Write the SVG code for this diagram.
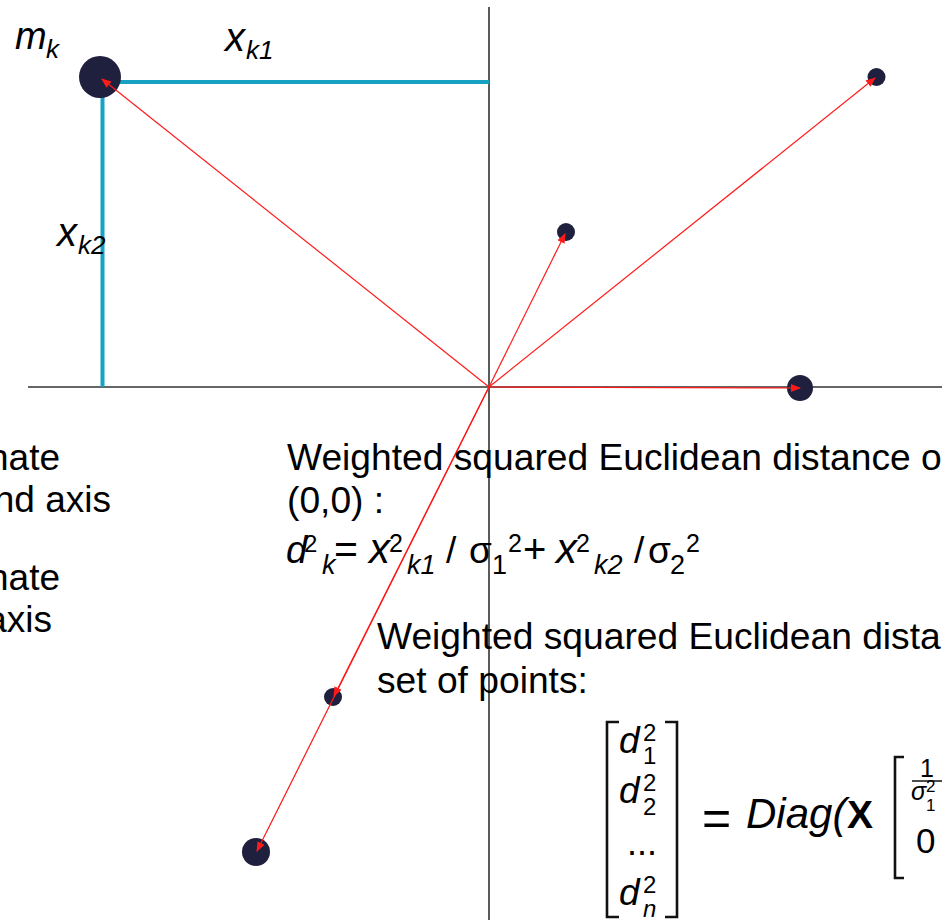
<svg xmlns="http://www.w3.org/2000/svg" width="942" height="920" viewBox="0 0 942 920">
<defs>
<marker id="ah" viewBox="0 0 10 10" refX="9" refY="5" markerWidth="10" markerHeight="10" markerUnits="userSpaceOnUse" orient="auto">
<path d="M0,1 L10,5 L0,9 Z" fill="#ff1a1a"/>
</marker>
<style>
.t{font-family:"Liberation Sans",Arial,sans-serif;fill:#000}
.i{font-style:italic}
.axis{stroke:#333;stroke-width:1.6;fill:none}
.cy{stroke:#17a2c4;stroke-width:4;fill:none}
.vec{stroke:#ff1a1a;stroke-width:1.2;fill:none;marker-end:url(#ah)}
.pt{fill:#1f1f3e}
.br{stroke:#111;stroke-width:2.6;fill:none}
</style>
</defs>
<rect width="942" height="920" fill="#fff"/>
<g id="axes">
<line class="axis" x1="489" y1="7" x2="489" y2="920"/>
<line class="axis" x1="28" y1="387" x2="942" y2="387"/>
</g>
<g id="components">
<polyline class="cy" points="489,82 102.5,82 102.5,387"/>
</g>
<g id="point-mk"><circle class="pt" cx="100" cy="77" r="21"/></g>
<g id="point-2"><circle class="pt" cx="566" cy="232" r="9"/></g>
<g id="point-3"><circle class="pt" cx="876.5" cy="77" r="9"/></g>
<g id="point-4"><circle class="pt" cx="800" cy="388" r="13"/></g>
<g id="point-5"><circle class="pt" cx="333" cy="697" r="9"/></g>
<g id="point-6"><circle class="pt" cx="256" cy="852" r="14"/></g>
<g id="connectors">
<line class="vec" x1="489" y1="387" x2="102" y2="79"/>
<line class="vec" x1="489" y1="387" x2="565" y2="234"/>
<line class="vec" x1="489" y1="387" x2="875" y2="78"/>
<line class="vec" x1="489" y1="387" x2="800" y2="388"/>
<line class="vec" x1="489" y1="387" x2="334" y2="696"/>
<line class="vec" x1="489" y1="387" x2="257" y2="851"/>
</g>
<g id="label-mk">
<text class="t i" x="15" y="49" font-size="38">m</text>
<text class="t i" x="46" y="58" font-size="26">k</text>
</g>
<g id="label-xk1">
<text class="t i" x="225" y="51" font-size="40">x</text>
<text class="t i" x="246" y="59" font-size="26">k1</text>
</g>
<g id="label-xk2">
<text class="t i" x="57" y="246" font-size="40">x</text>
<text class="t i" x="78" y="254" font-size="26">k2</text>
</g>
<g id="left-text">
<text class="t" x="60" y="470" font-size="37" text-anchor="end">nate</text>
<text class="t" x="111" y="512" font-size="37" text-anchor="end">nd axis</text>
<text class="t" x="60" y="590" font-size="37" text-anchor="end">nate</text>
<text class="t" x="52" y="632" font-size="37" text-anchor="end">axis</text>
</g>
<g id="text-single">
<text class="t" x="287" y="470" font-size="37.2">Weighted squared Euclidean distance of</text>
<text class="t" x="287" y="513" font-size="37.2">(0,0) :</text>
<text class="t" font-size="37" y="563"><tspan class="i" x="286" font-size="38">d</tspan><tspan x="304" y="552" font-size="24">2</tspan><tspan class="i" x="322" y="574" font-size="27">k</tspan><tspan x="334" y="563" font-size="41">=</tspan><tspan class="i" x="369" font-size="42">x</tspan><tspan x="389" y="552" font-size="25">2</tspan><tspan class="i" x="407" y="574" font-size="27">k1</tspan><tspan x="446" y="563">/</tspan><tspan x="469">σ</tspan><tspan x="492" y="574" font-size="27">1</tspan><tspan x="508" y="552" font-size="25">2</tspan><tspan x="523" y="563" font-size="40">+</tspan><tspan class="i" x="556" font-size="42">x</tspan><tspan x="576" y="552" font-size="25">2</tspan><tspan class="i" x="594" y="574" font-size="27">k2</tspan><tspan x="634" y="563">/</tspan><tspan x="648">σ</tspan><tspan x="670" y="574" font-size="27">2</tspan><tspan x="686" y="552" font-size="25">2</tspan></text>
</g>
<g id="text-set">
<text class="t" x="377" y="649" font-size="37.2">Weighted squared Euclidean dista</text>
<text class="t" x="377" y="693" font-size="37.2">set of points:</text>
</g>
<g id="matrix-formula">
<polyline class="br" points="619,722 607,722 607,917 619,917"/>
<polyline class="br" points="665,722 677,722 677,917 665,917"/>
<text class="t i" x="619" y="753" font-size="37">d</text>
<text class="t" x="643" y="741" font-size="24">2</text>
<text class="t" x="643" y="764" font-size="24">1</text>
<text class="t i" x="619" y="803" font-size="37">d</text>
<text class="t" x="643" y="791" font-size="24">2</text>
<text class="t" x="643" y="815" font-size="24">2</text>
<text class="t" x="642" y="855" font-size="36" text-anchor="middle">...</text>
<text class="t i" x="619" y="905" font-size="37">d</text>
<text class="t" x="643" y="893" font-size="24">2</text>
<text class="t i" x="643" y="917" font-size="24">n</text>
<text class="t" x="702" y="835" font-size="50">=</text>
<text class="t i" x="746" y="828" font-size="42">Diag(</text>
<text class="t" x="847" y="828" font-size="39" font-weight="bold">X</text>
<polyline class="br" points="904,757 895,757 895,878 904,878"/>
<text class="t" x="920" y="777" font-size="25">1</text>
<line x1="912" y1="781" x2="942" y2="781" stroke="#111" stroke-width="1.5"/>
<text class="t i" x="911" y="800" font-size="25">σ</text>
<text class="t" x="926" y="792" font-size="17">2</text>
<text class="t" x="926" y="811" font-size="17">1</text>
<text class="t" x="916" y="853" font-size="35">0</text>
</g>
</svg>
